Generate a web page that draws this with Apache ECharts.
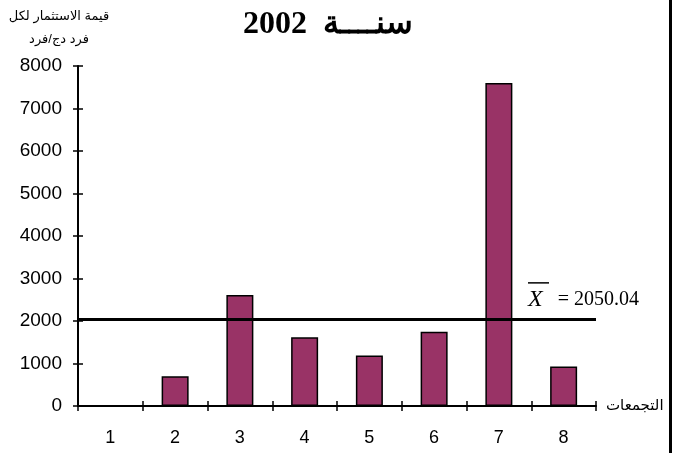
<!DOCTYPE html>
<html>
<head>
<meta charset="utf-8">
<script src="https://cdn.jsdelivr.net/npm/echarts@6/dist/echarts.min.js"></script>
<style>
  html, body { margin: 0; padding: 0; background: #fff; }
  #chart { width: 676px; height: 453px; }
</style>
</head>
<body>
<div id="chart"></div>
<script>
// Investment value per person for each cluster, year 2002
const clusters = ['1', '2', '3', '4', '5', '6', '7', '8'];
const investmentPerPerson = [0, 700, 2610, 1620, 1190, 1750, 7600, 930];
const meanValue = 2050.04;
const yTicks = { min: 0, max: 8000, interval: 1000 };

const chartTitle = '2002  سنــــة';
const yName = 'قيمة الاستثمار لكل\nفرد دج/فرد';
const xName = 'التجمعات';

const sans = 'Arial, "Liberation Sans", "DejaVu Sans", sans-serif';
const serif = '"Times New Roman", "Liberation Serif", "DejaVu Serif", serif';

const chart = echarts.init(document.getElementById('chart'), null, { renderer: 'canvas' });

const grid = { left: 78, right: 80, top: 66, bottom: 47 };

chart.setOption({
  animation: false,
  backgroundColor: '#fff',
  title: [
    {
      text: chartTitle,
      left: 323, top: 4, textAlign: 'center',
      textStyle: { fontFamily: serif, fontWeight: 'bold', fontSize: 32, color: '#000' }
    },
    {
      text: yName,
      left: 54, top: 0, textAlign: 'center',
      textStyle: { fontFamily: sans, fontWeight: 'normal', fontSize: 13, lineHeight: 23, color: '#000', align: 'center' }
    }
  ],
  grid: grid,
  xAxis: [
    {
      type: 'category',
      data: clusters,
      name: xName,
      nameLocation: 'end',
      nameGap: 10,
      nameTextStyle: { fontFamily: sans, fontSize: 15, color: '#000', verticalAlign: 'middle', padding: [0, 0, 8, 0] },
      axisLine: { lineStyle: { color: '#000', width: 2 } },
      axisTick: { show: true, length: 5, lineStyle: { color: '#000', width: 1.5 } },
      axisLabel: { fontFamily: sans, fontSize: 18, color: '#000', margin: 23 },
      splitLine: { show: false }
    },
    {
      type: 'category',
      data: clusters,
      position: 'bottom',
      axisLine: { show: false },
      axisTick: { show: true, inside: true, length: 5, lineStyle: { color: '#000', width: 1.5 } },
      axisLabel: { show: false },
      splitLine: { show: false }
    }
  ],
  yAxis: [
    {
      type: 'value',
      min: yTicks.min, max: yTicks.max, interval: yTicks.interval,
      axisLine: { show: true, lineStyle: { color: '#000', width: 2 } },
      axisTick: { show: true, length: 5, lineStyle: { color: '#000', width: 1.5 } },
      axisLabel: { fontFamily: sans, fontSize: 19, color: '#000', margin: 16, formatter: v => String(v) },
      splitLine: { show: false }
    },
    {
      type: 'value',
      position: 'left',
      min: yTicks.min, max: yTicks.max, interval: yTicks.interval,
      axisLine: { show: false },
      axisTick: { show: true, inside: true, length: 5, lineStyle: { color: '#000', width: 1.5 } },
      axisLabel: { show: false },
      splitLine: { show: false }
    }
  ],
  series: [
    {
      type: 'bar',
      data: investmentPerPerson,
      barWidth: 27,
      itemStyle: { color: '#993366', borderColor: '#000', borderWidth: 1.5 },
      markLine: {
        silent: true,
        symbol: ['none', 'none'],
        lineStyle: { color: '#000', width: 3, type: 'solid' },
        data: [{ yAxis: meanValue }],
        label: {
          show: true,
          position: 'end',
          distance: 0,
          offset: [-68, -24],
          formatter: '{ov|}\n{x|X}{eq|   = ' + meanValue.toFixed(2) + '}',
          rich: {
            ov: { width: 21, height: 1.5, backgroundColor: '#000', lineHeight: 10 },
            x: { fontFamily: serif, fontStyle: 'italic', fontSize: 24, lineHeight: 24, color: '#000' },
            eq: { fontFamily: serif, fontSize: 20, lineHeight: 24, color: '#000' }
          }
        }
      }
    }
  ],
  graphic: [
    {
      type: 'rect',
      right: 4, top: 0,
      shape: { width: 3, height: 453 },
      style: { fill: '#000' }
    }
  ]
});
</script>
</body>
</html>
